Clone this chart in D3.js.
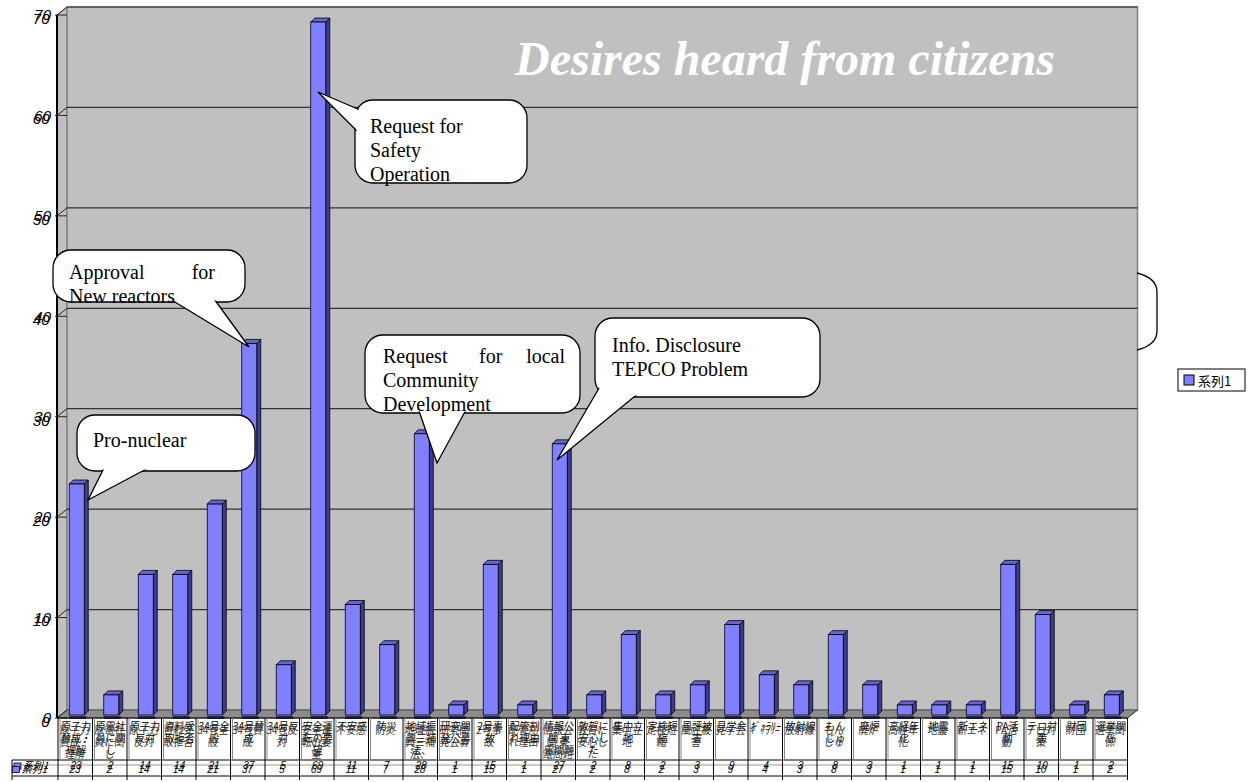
<!DOCTYPE html>
<html>
<head>
<meta charset="utf-8">
<script src="https://cdn.jsdelivr.net/npm/d3@7"></script>
<style>
  body { margin: 0; background: #fff; }
  svg { display: block; }
  .val, .ylab { font-family: "Liberation Sans", Arial, sans-serif; }
  .cat { font-family: "Noto Sans CJK JP", "Liberation Sans", sans-serif; }
  .note { font-family: "Liberation Serif", "Times New Roman", serif; font-size: 20px; }
</style>
</head>
<body>
<div id="chart"></div>
<script>
// category labels (lines split with \n as they wrap in the table)
const categories = [
  "原子力\n賛成・\n理解", "原電社\n員に関\nし", "原子力\n反対", "資料受\n取拒否", "34号全\n般",
  "34号賛\n成", "34号反\n対", "安全運\n転の要\n望", "不安感", "防災",
  "地域振\n興三補\n法、", "研究開\n発公募", "2号事\n故", "配管割\nれ理由", "情報公\n開 東\n電問題",
  "敦賀に\n安心し\nた", "集中立\n地", "定検短\n縮", "風評被\n害", "見学会",
  "ｷﾞｬﾗﾘｰ", "放射線", "もん\nじゅ", "廃炉", "高経年\n化",
  "地震", "新エネ", "PA活\n動", "テロ対\n策", "財団", "選挙関\n係"
];
const values = [23, 2, 14, 14, 21, 37, 5, 69, 11, 7, 28, 1, 15, 1, 27, 2, 8, 2, 3, 9, 4, 3, 8, 3, 1, 1, 1, 15, 10, 1, 2];
const seriesName = "系列1";
const yTicks = [0, 10, 20, 30, 40, 50, 60, 70];
const title = "Desires heard from citizens";

const W = 1250, H = 782;
const depth = { dx: 10, dy: -8 };
const barDepth = { dx: 4, dy: -4 };
// the original print shows every table/axis text twice, slightly shifted
const ghost = [{ dx: 0, dy: 0 }, { dx: -1.5, dy: 3.5 }];

const svg = d3.select('#chart').append('svg')
  .attr('width', W).attr('height', H);

const x = d3.scaleBand().domain(d3.range(categories.length)).range([58, 1127.5]).padding(0);
const y = d3.scaleLinear().domain([0, 70]).range([718, 15]);

const x0 = 57, x1 = 1127.5, yb = y(0), yt = y(70);

// left side wall
svg.append('path')
  .attr('d', `M${x0},${yt}L${x0 + depth.dx},${yt + depth.dy}L${x0 + depth.dx},${yb + depth.dy}L${x0},${yb}Z`)
  .attr('fill', '#c0c0c0').attr('stroke', '#808080');

// back wall
svg.append('rect')
  .attr('x', x0 + depth.dx).attr('y', yt + depth.dy)
  .attr('width', x1 - x0).attr('height', yb - yt)
  .attr('fill', '#c0c0c0').attr('stroke', '#808080').attr('stroke-width', 1.5);

// floor
svg.append('path')
  .attr('d', `M${x0},${yb}L${x0 + depth.dx},${yb + depth.dy}L${x1 + depth.dx},${yb + depth.dy}L${x1},${yb}Z`)
  .attr('fill', '#8c8c8c').attr('stroke', '#555');

// gridlines on back wall + diagonals on side wall
yTicks.forEach(t => {
  const yy = y(t);
  if (t > 0) {
    svg.append('line')
      .attr('x1', x0 + depth.dx).attr('x2', x1 + depth.dx)
      .attr('y1', yy + depth.dy).attr('y2', yy + depth.dy)
      .attr('stroke', '#333').attr('stroke-width', 1.2);
  }
  svg.append('line')
    .attr('x1', x0).attr('y1', yy).attr('x2', x0 + depth.dx).attr('y2', yy + depth.dy)
    .attr('stroke', '#222');
  svg.append('line')
    .attr('x1', x0 - 2).attr('y1', yy).attr('x2', x0 + 10).attr('y2', yy)
    .attr('stroke', '#222');
});

// title
svg.append('text')
  .attr('x', 515).attr('y', 75)
  .attr('font-family', '"Liberation Serif", "Times New Roman", serif')
  .attr('font-style', 'italic').attr('font-weight', 'bold')
  .attr('font-size', 48).attr('fill', '#fff')
  .text(title);

// bars
const bw = 15;
const bars = svg.append('g');
values.forEach((v, i) => {
  const cx = x(i) + x.bandwidth() / 2 + 1.5;
  const l = cx - bw / 2, r = cx + bw / 2;
  const base = yb - 3, top = y(v) - 3;
  const g = bars.append('g');
  // shadow on the floor
  g.append('rect').attr('x', l).attr('y', yb - 2).attr('width', bw + 2).attr('height', 3)
    .attr('fill', '#2a2a70');
  // side
  g.append('path')
    .attr('d', `M${r},${top}L${r + barDepth.dx},${top + barDepth.dy}L${r + barDepth.dx},${base + barDepth.dy}L${r},${base}Z`)
    .attr('fill', '#3c3c96').attr('stroke', '#000').attr('stroke-width', 0.8);
  // top
  g.append('path')
    .attr('d', `M${l},${top}L${l + barDepth.dx},${top + barDepth.dy}L${r + barDepth.dx},${top + barDepth.dy}L${r},${top}Z`)
    .attr('fill', '#6666cc').attr('stroke', '#000').attr('stroke-width', 0.8);
  // front
  g.append('rect')
    .attr('x', l).attr('y', top).attr('width', bw).attr('height', base - top)
    .attr('fill', '#8080ff').attr('stroke', '#000').attr('stroke-width', 0.8);
});

// y axis (labels drawn twice, as in the original)
ghost.forEach(gh => {
  const yAxis = svg.append('g')
    .attr('class', 'ylab')
    .attr('transform', `translate(${x0 + gh.dx},${gh.dy})`)
    .call(d3.axisLeft(y).tickValues(yTicks).tickSize(0).tickPadding(6));
  yAxis.select('.domain').remove();
  yAxis.selectAll('text')
    .attr('font-size', 15).attr('font-style', 'italic').attr('fill', '#000')
    .attr('font-family', '"Liberation Sans", Arial, sans-serif');
});
svg.append('line').attr('x1', x0).attr('x2', x0).attr('y1', yt).attr('y2', yb)
  .attr('stroke', '#000').attr('stroke-width', 2);

// right edge of floor/wall
svg.append('line').attr('x1', x1).attr('y1', yb).attr('x2', x1 + depth.dx).attr('y2', yb + depth.dy)
  .attr('stroke', '#444');

// data table
const tbl = svg.append('g');
const rowTop = yb, rowMid = 760, rowBot = 776;
tbl.append('line').attr('x1', x0).attr('x2', x1).attr('y1', rowTop).attr('y2', rowTop).attr('stroke', '#000');
tbl.append('line').attr('x1', 12).attr('x2', x1).attr('y1', rowMid).attr('y2', rowMid).attr('stroke', '#000');
tbl.append('line').attr('x1', 12).attr('x2', x1).attr('y1', rowMid + 5).attr('y2', rowMid + 5).attr('stroke', '#999');
tbl.append('line').attr('x1', 12).attr('x2', x1).attr('y1', rowBot).attr('y2', rowBot).attr('stroke', '#000');
tbl.append('line').attr('x1', 12).attr('x2', 12).attr('y1', rowMid).attr('y2', rowBot + 4).attr('stroke', '#000');
d3.range(categories.length + 1).forEach(i => {
  const xx = i < categories.length ? x(i) : x1;
  tbl.append('line').attr('x1', xx).attr('x2', xx).attr('y1', rowTop).attr('y2', rowBot + 4)
    .attr('stroke', '#000');
  if (i < categories.length) {
    tbl.append('line').attr('x1', xx + 2).attr('x2', xx + 2).attr('y1', rowTop).attr('y2', rowMid)
      .attr('stroke', '#888');
  }
});

categories.forEach((c, i) => {
  const cx = x(i) + x.bandwidth() / 2 + 1;
  const lines = c.split('\n');
  ghost.forEach((gh, k) => {
    const t = tbl.append('text').attr('class', 'cat')
      .attr('x', cx + gh.dx).attr('text-anchor', 'middle')
      .attr('font-size', 10).attr('fill', k ? '#333' : '#000');
    lines.forEach((ln, j) => {
      t.append('tspan').attr('x', cx + gh.dx).attr('y', 730 + j * 12 + gh.dy).text(ln);
    });
    tbl.append('text').attr('class', 'val')
      .attr('x', cx + gh.dx).attr('y', 769 + gh.dy).attr('text-anchor', 'middle')
      .attr('font-size', 10).attr('font-style', 'italic').attr('fill', '#000')
      .text(values[i]);
  });
});

// series key in table
ghost.forEach(gh => {
  tbl.append('rect').attr('x', 14 + gh.dx).attr('y', 763 + gh.dy).attr('width', 7).attr('height', 6)
    .attr('fill', '#8080ff').attr('stroke', '#000').attr('stroke-width', 0.8);
  tbl.append('text').attr('x', 23 + gh.dx).attr('y', 769 + gh.dy)
    .attr('font-size', 10).attr('font-style', 'italic')
    .attr('font-family', '"Noto Sans CJK JP", "Liberation Sans", sans-serif')
    .text(seriesName);
});

// callouts
function callout(box, tail, lines) {
  const g = svg.append('g');
  const r = 18;
  g.append('rect')
    .attr('x', box.x).attr('y', box.y).attr('width', box.w).attr('height', box.h)
    .attr('rx', r).attr('ry', r)
    .attr('fill', '#fff').attr('stroke', '#000').attr('stroke-width', 1.3);
  g.append('path').attr('d', 'M' + tail.map(p => p.join(',')).join('L') + 'Z')
    .attr('fill', '#fff').attr('stroke', '#000').attr('stroke-width', 1.3);
  g.append('rect')
    .attr('x', box.x + 1.5).attr('y', box.y + 1.5).attr('width', box.w - 3).attr('height', box.h - 3)
    .attr('rx', r - 1.5).attr('ry', r - 1.5).attr('fill', '#fff');
  lines.forEach(l => {
    g.append('text').attr('class', 'note')
      .attr('x', l.x).attr('y', l.y).attr('text-anchor', l.anchor || 'start')
      .text(l.t);
  });
}

callout({ x: 77, y: 415, w: 178, h: 56 }, [[105, 466], [88, 500], [152, 466]],
  [{ t: 'Pro-nuclear', x: 93, y: 447 }]);
callout({ x: 53, y: 250, w: 192, h: 52 }, [[165, 296], [249, 347], [212, 296]],
  [{ t: 'Approval', x: 69, y: 279 }, { t: 'for', x: 215, y: 279, anchor: 'end' },
   { t: 'New reactors', x: 69, y: 303 }]);
callout({ x: 355, y: 100, w: 172, h: 83 }, [[360, 110], [318, 92], [362, 136]],
  [{ t: 'Request for', x: 370, y: 133 }, { t: 'Safety', x: 370, y: 157 }, { t: 'Operation', x: 370, y: 181 }]);
callout({ x: 365, y: 335, w: 215, h: 78 }, [[418, 408], [437, 463], [467, 408]],
  [{ t: 'Request', x: 383, y: 363 }, { t: 'for', x: 479, y: 363 }, { t: 'local', x: 565, y: 363, anchor: 'end' },
   { t: 'Community', x: 383, y: 387 }, { t: 'Development', x: 383, y: 411 }]);
callout({ x: 595, y: 318, w: 225, h: 79 }, [[605, 378], [557, 460], [640, 392]],
  [{ t: 'Info. Disclosure', x: 612, y: 352 }, { t: 'TEPCO Problem', x: 612, y: 376 }]);

// partial callout edge at right of plot
svg.append('path')
  .attr('d', 'M1137,273 Q1157,278 1157,292 L1157,331 Q1157,345 1137,350')
  .attr('fill', 'none').attr('stroke', '#000').attr('stroke-width', 1.3);

// legend
const lg = svg.append('g');
lg.append('rect').attr('x', 1178).attr('y', 369).attr('width', 67).attr('height', 22)
  .attr('fill', '#fff').attr('stroke', '#000');
lg.append('rect').attr('x', 1184).attr('y', 375).attr('width', 10).attr('height', 10)
  .attr('fill', '#8080ff').attr('stroke', '#000');
lg.append('text').attr('x', 1198).attr('y', 386)
  .attr('font-family', '"Noto Sans CJK JP", "Liberation Sans", sans-serif')
  .attr('font-size', 13).text(seriesName);
</script>
</body>
</html>
